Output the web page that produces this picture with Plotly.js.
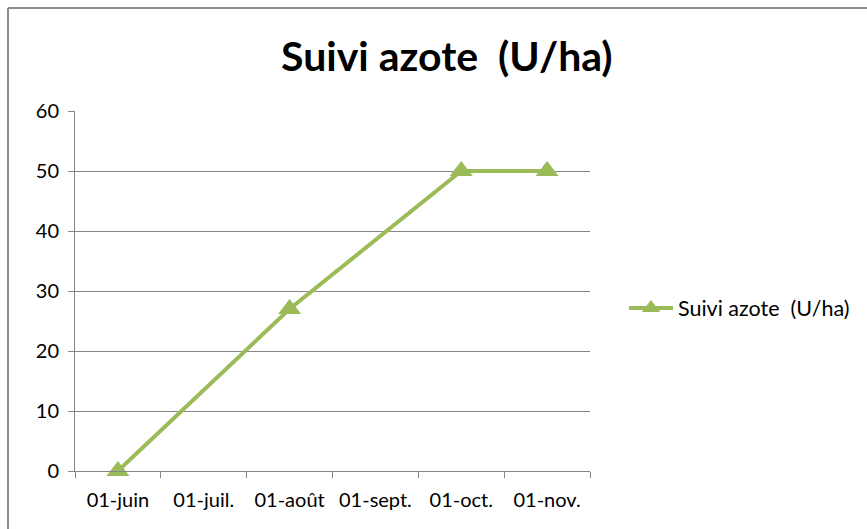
<!DOCTYPE html>
<html><head><meta charset="utf-8">
<script src="https://cdn.plot.ly/plotly-3.0.1.min.js"></script>
<style>body{margin:0;background:#fff}#c{width:867px;height:529px}</style>
</head><body><div id="c"></div>
<script>
const categories = ['01-juin', '01-juil.', '01-août', '01-sept.', '01-oct.', '01-nov.'];
const pointDates = ['01-juin', '01-août', '01-oct.', '01-nov.'];
const azoteValues = [0, 27, 50, 50];
const yTicks = [0, 10, 20, 30, 40, 50, 60];
const seriesName = 'Suivi azote\u00A0 (U/ha)';
const titleText = 'Suivi azote\u00A0 (U/ha)';

const FONT = 'Lato, "Open Sans", "Liberation Sans", sans-serif';
const green = '#9BBB59';
const grid = '#868686';

const trace = {
  type: 'scatter', mode: 'lines+markers', name: seriesName,
  x: pointDates, y: azoteValues, cliponaxis: false,
  line: {color: green, width: 4},
  marker: {symbol: 'triangle-up', size: 20, color: green}
};

const layout = {
  width: 867, height: 529,
  margin: {l: 75, r: 277, t: 111, b: 58},
  paper_bgcolor: '#fff', plot_bgcolor: '#fff',
  font: {family: FONT, size: 20, color: '#000'},
  title: {text: titleText, font: {family: FONT, size: 41, color: '#000', weight: 'bold'},
          x: 0.722, xref: 'paper', xanchor: 'center', y: 0.893, yanchor: 'middle'},
  showlegend: true,
  legend: {x: 1.066, y: 0.453, xanchor: 'left', yanchor: 'middle', font: {family: FONT, size: 21.5},
           bgcolor: 'rgba(0,0,0,0)', itemwidth: 44},
  xaxis: {type: 'category', categoryorder: 'array', categoryarray: categories,
          tickvals: categories, range: [-0.5, 5.5], tickangle: 0, automargin: false,
          tickson: 'boundaries', ticks: 'outside', ticklen: 6, tickcolor: grid,
          showline: true, linecolor: grid, linewidth: 1, showgrid: false, zeroline: false,
          ticklabelstandoff: 11,
          tickfont: {family: FONT, size: 20, color: '#000'}},
  yaxis: {range: [0, 60], tickvals: yTicks, ticks: 'outside', ticklen: 6, tickcolor: grid,
          showline: true, linecolor: grid, linewidth: 1, showgrid: true, gridcolor: grid, gridwidth: 1,
          zeroline: false, ticklabelstandoff: 5, automargin: false,
          tickfont: {family: FONT, size: 20, color: '#000'}},
  shapes: [
    {type: 'line', xref: 'paper', yref: 'paper', x0: (8-75)/515, x1: (870-75)/515,
     y0: 1 + (111-8)/360, y1: 1 + (111-8)/360, line: {color: '#8c8c8c', width: 2}},
    {type: 'line', xref: 'paper', yref: 'paper', x0: (8-75)/515, x1: (8-75)/515,
     y0: 1 + (111-8)/360, y1: -(540-471)/360, line: {color: '#8c8c8c', width: 2}}
  ]
};

Plotly.newPlot('c', [trace], layout, {displayModeBar: false, staticPlot: true});
</script></body></html>
